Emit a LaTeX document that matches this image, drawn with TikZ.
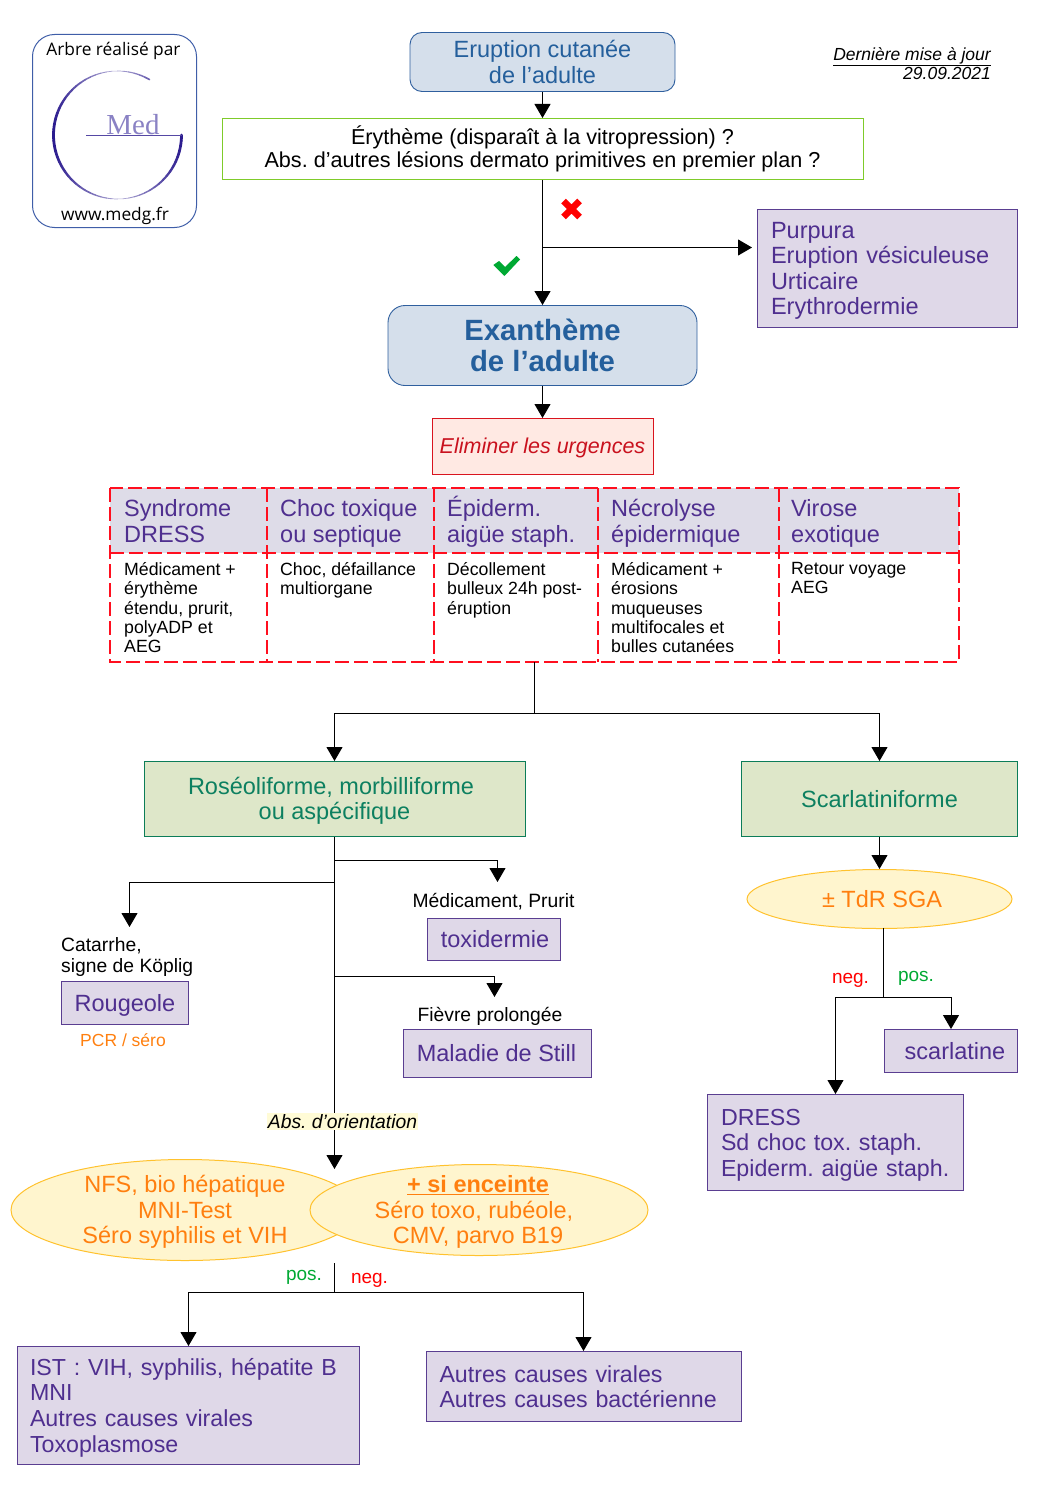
\documentclass[tikz,border=0pt]{standalone}
\usepackage{fontspec}
\setmainfont{Liberation Sans}
\newfontfamily\logofont{Open Sans}
\newfontfamily\medfont{Liberation Serif}
\usetikzlibrary{arrows.meta,shapes.geometric}
\frenchspacing
\newcommand\lift[1]{\rule{0pt}{#1pt}}
\definecolor{bluefill}{HTML}{D5DFEB}
\definecolor{blueline}{HTML}{2F5F9E}
\definecolor{bluetext}{HTML}{245F9C}
\definecolor{purplefill}{HTML}{DFD8E8}
\definecolor{purpleline}{HTML}{5A3E91}
\definecolor{purpletext}{HTML}{4F2F8F}
\definecolor{headfill}{HTML}{DEDCE8}
\definecolor{greenfill}{HTML}{DEE7C9}
\definecolor{greenline}{HTML}{0C7D58}
\definecolor{greentext}{HTML}{0D8060}
\definecolor{yellowfill}{HTML}{FFF5CE}
\definecolor{yellowline}{HTML}{FFC22E}
\definecolor{orangetext}{HTML}{FF7F0F}
\definecolor{redfill}{HTML}{FFE9E3}
\definecolor{redline}{HTML}{D9141E}
\definecolor{redtext}{HTML}{C9111E}
\definecolor{limeline}{HTML}{7FCB2A}
\definecolor{dashred}{HTML}{FF0F1F}
\definecolor{logoblue}{HTML}{2A1A8E}
\definecolor{logoframe}{HTML}{3F5EA8}
\definecolor{medcolor}{HTML}{8A82C4}
\definecolor{posgreen}{HTML}{00A933}
\definecolor{negred}{HTML}{FF0000}
\definecolor{absfill}{HTML}{FFFBD6}
\tikzset{
  conn/.style={draw=black,line width=1pt},
  arr/.style={conn,-{Triangle[length=14pt,width=16pt]}},
  bigtext/.style={font=\fontsize{23.5}{25.6}\selectfont},
  smallbig/.style={font=\fontsize{23.2}{25.6}\selectfont},
  bluebox/.style={draw=blueline,fill=bluefill,line width=0.9pt,rounded corners=12pt,text=bluetext,align=center,inner sep=0pt,bigtext},
  purplebox/.style={draw=purpleline,fill=purplefill,line width=1pt,text=purpletext,align=left,inner xsep=13.5pt,inner ysep=0pt,bigtext},
  greenbox/.style={draw=greenline,fill=greenfill,line width=1pt,text=greentext,align=center,inner sep=0pt,bigtext},
  testoval/.style={ellipse,draw=yellowline,fill=yellowfill,line width=1pt,text=orangetext,align=center,inner sep=0pt,bigtext},
  ovaltext/.style={inner sep=0pt,text=orangetext,align=center,bigtext},
  headcell/.style={fill=headfill,anchor=north west,inner sep=0pt},
  headtext/.style={anchor=north west,inner sep=0pt,text=purpletext,align=left,bigtext},
  celltext/.style={anchor=north west,inner sep=0pt,align=left,font=\fontsize{17.7}{19.4}\selectfont},
  plainlabel/.style={inner sep=0pt,align=left,font=\fontsize{19.3}{21}\selectfont},
  redash/.style={draw=dashred,line width=2pt,dash pattern=on 14pt off 5pt},
  branchlabel/.style={inner sep=0pt,font=\fontsize{19}{21}\selectfont},
  logotext/.style={inner sep=0pt,font=\logofont\fontsize{17.3}{20}\selectfont}
}
\begin{document}
\begin{tikzpicture}[x=1pt,y=-1pt]
\useasboundingbox (0,0) rectangle (1050,1485);

% logo
\node[draw=logoframe,line width=1pt,rounded corners=22pt,minimum width=164pt,minimum height=193pt,inner sep=0pt] (logo) at (114.5,131) {};
\node[logotext] (logotop) at (113.5,51) {Arbre réalisé par};
\node[logotext] (logobot) at (115,216) {www.medg.fr};
\foreach \a in {60,65,...,355}{
  \pgfmathsetmacro{\lw}{0.5+2.3*abs(cos(\a))}
  \pgfmathsetmacro{\mx}{int(35+65*abs(cos(\a)))}
  \draw[color=logoblue!\mx!white,line width=\lw pt,line cap=round]
    plot[domain=\a:\a+5,samples=3] ({117.5+64*cos(\x)},{135-64*sin(\x)});
}
\draw[logoblue!80!white,line width=0.9pt] (86,135) -- (182,135);
\node[anchor=base,inner sep=0pt,text=medcolor,font=\medfont\fontsize{29}{30}\selectfont] (medword) at (133,134.5) {Med};

% date
\node[inner sep=0pt,align=right,anchor=east,font=\itshape\fontsize{17.5}{19}\selectfont] (datenote) at (991,63.5) {\underline{Dernière mise à jour}\\29.09.2021};

% top
\node[bluebox,minimum width=265pt,minimum height=59pt] (top) at (542.5,62) {Eruption cutanée\\de l’adulte};
\node[draw=limeline,line width=1pt,fill=white,minimum width=641pt,minimum height=61pt,inner sep=0pt,align=center,font=\fontsize{21.6}{23}\selectfont] (question) at (542.5,149) {Érythème (disparaît à la vitropression) ?\\Abs. d’autres lésions dermato primitives en premier plan ?};
\node[bluebox,rounded corners=17pt,minimum width=309pt,minimum height=80pt,font=\bfseries\fontsize{29.3}{31}\selectfont] (exan) at (542.5,345.5) {Exanthème\\de l’adulte};
\node[purplebox,text width=233pt,minimum height=118pt] (purp) at (887.5,268.5) {\lift{21}Purpura\\Eruption vésiculeuse\\Urticaire\\Erythrodermie};
\node[draw=redline,fill=redfill,line width=1pt,minimum width=221pt,minimum height=56pt,inner sep=0pt,text=redtext,font=\itshape\fontsize{21.5}{24}\selectfont] (elim) at (542.5,446.5) {\lift{18}Eliminer les urgences};

% icons
\draw[negred,line width=6.5pt] (563.5,201) -- (579.5,217) (579.5,201) -- (563.5,217);
\fill[posgreen] (493.3,265) -- (499,261) -- (505,267) -- (516.5,256) -- (520,259.5) -- (504.5,276) -- cycle;

\coordinate (split) at (542.5,247.5);
\draw[arr] (top.south) -- (question.north);
\draw[arr] (question.south) -- (exan.north);
\draw[arr,shorten >=5pt] (split) -- (split-|purp.west);
\draw[arr] (exan.south) -- (elim.north);

% table
\node[headcell,minimum width=157pt,minimum height=65pt] (h1) at (110,488) {};
\node[headcell,minimum width=167pt,minimum height=65pt] (h2) at (267,488) {};
\node[headcell,minimum width=164pt,minimum height=65pt] (h3) at (434,488) {};
\node[headcell,minimum width=181pt,minimum height=65pt] (h4) at (598,488) {};
\node[headcell,minimum width=180pt,minimum height=65pt] (h5) at (779,488) {};
\coordinate (tbr) at (959,662);
\draw[redash] (h1.north west) rectangle (tbr);
\draw[redash] (h1.south west) -- (h5.south east);
\draw[redash] (h2.north west) -- (h2.north west|-tbr);
\draw[redash] (h3.north west) -- (h3.north west|-tbr);
\draw[redash] (h4.north west) -- (h4.north west|-tbr);
\draw[redash] (h5.north west) -- (h5.north west|-tbr);

\node[headtext] (t1) at (124,495.5) {\lift{21}Syndrome\\DRESS};
\node[headtext] (t2) at (280,495.5) {\lift{21}Choc toxique\\ou septique};
\node[headtext] (t3) at (447,495.5) {\lift{21}Épiderm.\\aigüe staph.};
\node[headtext] (t4) at (611,495.5) {\lift{21}Nécrolyse\\épidermique};
\node[headtext] (t5) at (791,495.5) {\lift{21}Virose\\exotique};
\node[celltext] (c1) at (124,562) {Médicament +\\érythème\\étendu, prurit,\\polyADP et\\AEG};
\node[celltext] (c2) at (280,562) {Choc, défaillance\\multiorgane};
\node[celltext] (c3) at (447,562) {Décollement\\bulleux 24h post-\\éruption};
\node[celltext] (c4) at (611,562) {Médicament +\\érosions\\muqueuses\\multifocales et\\bulles cutanées};
\node[celltext] (c5) at (791,562) {Retour voyage\\AEG};

% second level
\node[greenbox,minimum width=381pt,minimum height=75pt] (rose) at (334.5,799) {\lift{21}Roséoliforme, morbilliforme\hspace*{7pt}\\ou aspécifique};
\node[greenbox,minimum width=276pt,minimum height=75pt] (scar) at (879.5,799) {Scarlatiniforme};
\coordinate (tabout) at (534.5,662);
\coordinate (tabjoin) at (534.5,713.5);
\draw[conn] (tabout) -- (tabjoin);
\draw[arr] (tabjoin) -| (rose.north);
\draw[arr] (tabjoin) -| (scar.north);

% right branch
\node[testoval,minimum width=265pt,minimum height=59pt] (tdr) at (879.5,899) {\hspace*{5pt}± TdR SGA};
\draw[arr] (scar.south) -- (tdr.north);
\node[purplebox,inner xsep=0pt,align=center,minimum width=133pt,minimum height=43pt] (scarl) at (951,1051) {\hspace*{8pt}scarlatine};
\node[purplebox,smallbig,text width=229pt,minimum height=96pt] (dress) at (835.5,1142.5) {\lift{21}\mbox{DRESS}\\\mbox{Sd choc tox. staph.}\\\mbox{Epiderm. aigüe staph.}};
\coordinate (tdrout) at (883.5,928);
\coordinate (tdrjoin) at (883.5,997.5);
\draw[conn] (tdrout) -- (tdrjoin);
\draw[arr] (tdrjoin) -| (scarl.north);
\draw[arr] (tdrjoin) -| (dress.north);
\node[branchlabel,text=negred] (negr) at (850.5,980) {neg.};
\node[branchlabel,text=posgreen] (posr) at (916,978) {pos.};

% left branch
\node[purplebox,inner xsep=0pt,align=center,minimum width=127pt,minimum height=43pt] (roug) at (125,1003) {\lift{21}Rougeole};
\node[purplebox,inner xsep=0pt,align=center,minimum width=133pt,minimum height=42pt] (toxi) at (494,939.5) {\hspace*{2pt}toxidermie};
\node[purplebox,inner xsep=0pt,align=center,minimum width=188pt,minimum height=48pt] (still) at (497.5,1053.5) {Maladie de Still\hspace*{2pt}};
\node[plainlabel] (labmed) at (493.5,902) {Médicament, Prurit};
\node[plainlabel] (labfev) at (490,1016.5) {Fièvre prolongée};
\node[plainlabel,anchor=north west] (labcat) at (61,937.5) {Catarrhe,\\signe de Köplig};
\node[inner sep=0pt,text=orangetext,font=\fontsize{17.5}{19}\selectfont] (pcr) at (123,1040) {PCR / séro};

\coordinate (rosedown) at (334.5,837);
\coordinate (b1) at (334.5,860.5);
\coordinate (b2) at (334.5,882.5);
\coordinate (b3) at (334.5,976.5);
\coordinate (e1) at (497.5,882);
\coordinate (e2) at (129.5,927);
\coordinate (e3) at (494.5,997);
\coordinate (e4) at (334.5,1169);
\draw[arr] (rosedown) -- (e4);
\draw[arr] (b1) -| (e1);
\draw[arr] (b2) -| (e2);
\draw[arr] (b3) -| (e3);
\node[inner sep=1pt,fill=absfill,font=\itshape\fontsize{19.3}{21}\selectfont] (abs) at (342.5,1121.5) {Abs. d’orientation};

\node[testoval,minimum width=348pt,minimum height=101pt] (bio) at (185,1210) {};
\node[testoval,minimum width=338pt,minimum height=91pt] (ence) at (479,1210) {};
\node[ovaltext] (biotext) at (185,1212) {NFS, bio hépatique\\MNI-Test\\Séro syphilis et VIH};
\node[ovaltext] (encetext) at (478,1212) {\textbf{\underline{+ si enceinte}}\\\mbox{Séro toxo, rubéole,\hspace{8pt}}\\CMV, parvo B19};

\node[purplebox,smallbig,text width=315pt,minimum height=118pt] (ist) at (188.5,1405.5) {\lift{21}\hspace*{-1pt}IST : VIH, syphilis, hépatite B\\\hspace*{-1pt}MNI\\\hspace*{-1pt}Autres causes virales\\\hspace*{-1pt}Toxoplasmose};
\node[purplebox,smallbig,text width=288pt,minimum height=70pt] (autres) at (583.5,1386.5) {Autres causes virales\\Autres causes bactérienne};
\coordinate (lowout) at (334.5,1263);
\coordinate (lowjoin) at (334.5,1292.5);
\draw[conn] (lowout) -- (lowjoin);
\draw[arr] (lowjoin) -| (ist.north);
\draw[arr] (lowjoin) -| (autres.north);
\node[branchlabel,text=posgreen] (posl) at (304,1277.5) {pos.};
\node[branchlabel,text=negred] (negl) at (369.5,1280.5) {neg.};
\end{tikzpicture}
\end{document}
